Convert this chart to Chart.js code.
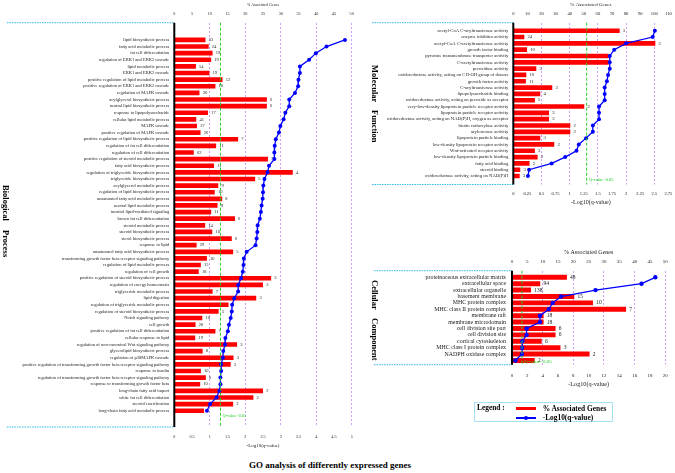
<!DOCTYPE html>
<html><head><meta charset="utf-8"><title>GO analysis of differently expressed genes</title>
<script src="https://cdn.jsdelivr.net/npm/chart.js@4.4.1/dist/chart.umd.min.js"></script>
<style>
html,body{margin:0;padding:0;background:#fff}
body{position:relative;width:675px;height:473px;overflow:hidden;font-family:'Liberation Serif','Times New Roman',serif;color:#000}
canvas{position:absolute;display:block}
.v{position:absolute;writing-mode:vertical-rl;font-weight:bold;font-size:8.5px;line-height:10px;width:10px;white-space:nowrap}
#legend{position:absolute;left:474px;top:402px;width:137px;height:18px;border:1px solid #a6e3f2}
.lt{position:absolute;font-weight:bold;font-size:7.4px;line-height:8px;white-space:nowrap}
#title{position:absolute;left:249px;top:460px;font-weight:bold;font-size:9px;line-height:11px;white-space:nowrap}
</style></head><body>
<canvas id="bp" width="362" height="455" style="left:0;top:0"></canvas>
<canvas id="mf" width="315" height="210" style="left:360px;top:0"></canvas>
<canvas id="cc" width="315" height="150" style="left:360px;top:240px"></canvas>

<div class="v" style="left:0.5px;top:185px">Biological</div>
<div class="v" style="left:0.5px;top:230px">Process</div>
<div class="v" style="left:370px;top:65px">Molecular</div>
<div class="v" style="left:370px;top:110px">Function</div>
<div class="v" style="left:370px;top:280px">Cellular</div>
<div class="v" style="left:370px;top:318px">Component</div>

<div id="legend"></div>
<div class="lt" style="left:477px;top:404.3px">Legend :</div>
<div style="position:absolute;left:516px;top:406.5px;width:19.7px;height:3px;background:#ff0000"></div>
<div class="lt" style="left:542.7px;top:404.5px">% Associated Genes</div>
<div style="position:absolute;left:516px;top:417.3px;width:19.7px;height:1.4px;background:#0000ff"></div>
<div style="position:absolute;left:524px;top:416px;width:4px;height:4px;border-radius:50%;background:#0000ff"></div>
<div class="lt" style="left:542.7px;top:414px">-Log10(q-value)</div>

<div id="title">GO analysis of differently expressed genes</div>

<script>
// ---------------- Biological Process ----------------
const bpCategories = [
  'lipid biosynthetic process','fatty acid metabolic process','fat cell differentiation',
  'regulation of ERK1 and ERK2 cascade','lipid metabolic process','ERK1 and ERK2 cascade',
  'positive regulation of lipid metabolic process','positive regulation of ERK1 and ERK2 cascade',
  'regulation of MAPK cascade','acylglycerol biosynthetic process','neutral lipid biosynthetic process',
  'response to lipopolysaccharide','cellular lipid metabolic process','MAPK cascade',
  'positive regulation of MAPK cascade','positive regulation of lipid biosynthetic process',
  'regulation of fat cell differentiation','regulation of cell differentiation',
  'positive regulation of steroid metabolic process','fatty acid biosynthetic process',
  'regulation of triglyceride biosynthetic process','triglyceride biosynthetic process',
  'acylglycerol metabolic process','regulation of lipid biosynthetic process',
  'unsaturated fatty acid metabolic process','neutral lipid metabolic process',
  'inositol lipid-mediated signaling','brown fat cell differentiation','steroid metabolic process',
  'steroid biosynthetic process','sterol biosynthetic process','response to lipid',
  'unsaturated fatty acid biosynthetic process','transforming growth factor beta receptor signaling pathway',
  'regulation of lipid metabolic process','regulation of cell growth',
  'positive regulation of steroid biosynthetic process','regulation of energy homeostasis',
  'triglyceride metabolic process','lipid digestion','regulation of triglyceride metabolic process',
  'regulation of steroid biosynthetic process','Notch signaling pathway','cell growth',
  'positive regulation of fat cell differentiation','cellular response to lipid',
  'regulation of non-canonical Wnt signaling pathway','glycerolipid biosynthetic process',
  'regulation of p38MAPK cascade',
  'positive regulation of transforming growth factor beta receptor signaling pathway',
  'response to insulin','regulation of transforming growth factor beta receptor signaling pathway',
  'response to transforming growth factor beta','long-chain fatty acid import',
  'white fat cell differentiation','steroid esterification','long-chain fatty acid metabolic process'
];
const bpPercent = [
  8.7, 9.6, 10.7, 10.3, 6.0, 9.8, 13.5, 11.5, 7.0, 26.0, 26.0, 9.4, 6.1, 6.3, 7.3, 17.9,
  11.7, 5.4, 26.3, 11.1, 33.3, 22.7, 12.3, 11.3, 13.4, 12.1, 10.3, 17.0, 8.6, 10.6, 16.1, 6.2,
  16.5, 9.1, 7.4, 6.8, 27.2, 24.9, 10.7, 23.0, 15.2, 12.4, 7.8, 5.9, 11.5, 5.8, 17.6, 7.9,
  16.6, 15.8, 7.4, 8.8, 7.2, 24.9, 22.2, 16.5, 8.3
];
const bpNegLog10Q = [
  4.81, 4.29, 3.99, 3.80, 3.54, 3.54, 3.50, 3.49, 3.40, 3.24, 3.24, 3.13, 3.08, 2.99, 2.95, 2.86,
  2.83, 2.82, 2.82, 2.67, 2.63, 2.54, 2.51, 2.50, 2.49, 2.46, 2.44, 2.41, 2.35, 2.34, 2.32, 2.29,
  2.04, 1.96, 1.95, 1.93, 1.88, 1.80, 1.80, 1.69, 1.63, 1.62, 1.59, 1.54, 1.51, 1.44, 1.43, 1.38,
  1.37, 1.32, 1.32, 1.30, 1.30, 1.27, 1.19, 1.01, 0.92
];
const bpGeneCounts = [
  33, 24, 19, 19, 54, 19, 12, 10, 36, 6, 6, 17, 41, 37, 26, 7,
  11, 62, 7, 11, 4, 5, 9, 10, 8, 9, 11, 6, 14, 10, 6, 29,
  5, 10, 15, 18, 3, 3, 7, 3, 6, 5, 10, 20, 7, 19, 3, 8,
  3, 3, 10, 6, 10, 2, 2, 2, null
];

// ---------------- Molecular Function ----------------
const mfCategories = [
  'acetyl-CoA C-acyltransferase activity','enzyme inhibitor activity',
  'acetyl-CoA C-acetyltransferase activity','growth factor binding',
  'pyruvate transmembrane transporter activity','C-acetyltransferase activity','peroxidase activity',
  'oxidoreductase activity, acting on CH-OH group of donors','growth factor activity',
  'C-acyltransferase activity','lipopolysaccharide binding',
  'oxidoreductase activity, acting on peroxide as acceptor',
  'very-low-density lipoprotein particle receptor activity','lipoprotein particle receptor activity',
  'oxidoreductase activity, acting on NAD(P)H, oxygen as acceptor','biotin carboxylase activity',
  'arylesterase activity','lipoprotein particle binding','low-density lipoprotein receptor activity',
  'Wnt-activated receptor activity','low-density lipoprotein particle binding','fatty acid binding',
  'steroid binding','oxidoreductase activity, acting on NAD(P)H'
];
const mfPercent = [
  75.2, 7.6, 100.5, 9.5, 67.4, 67.4, 16.1, 9.0, 8.7, 27.4, 18.9, 15.1,
  50.1, 25.1, 25.1, 40.2, 40.2, 18.9, 28.8, 15.1, 17.0, 11.3, 4.7, 4.3
];
const mfNegLog10Q = [
  2.51, 2.47, 2.00, 1.79, 1.71, 1.71, 1.71, 1.68, 1.66, 1.62, 1.62, 1.62,
  1.52, 1.52, 1.52, 1.41, 1.41, 1.29, 1.16, 1.12, 0.92, 0.68, 0.28, 0.26
];
const mfGeneCounts = [
  3, 24, 2, 10, null, null, 5, 10, 11, 3, 4, 5,
  2, 3, 3, 2, 2, 3, 2, 3, 2, 2, 3, 3
];

// ---------------- Cellular Component ----------------
const ccCategories = [
  'proteinaceous extracellular matrix','extracellular space','extracellular organelle',
  'basement membrane','MHC protein complex','MHC class II protein complex','membrane raft',
  'membrane microdomain','cell division site part','cell division site','cortical cytoskeleton',
  'MHC class I protein complex','NADPH oxidase complex','lipoprotein particle'
];
const ccPercent = [17.8, 9.1, 6.1, 20.2, 26.3, 37.1, 10.2, 10.2, 14.1, 14.1, 9.6, 15.7, 25.2, 7.3];
const ccNegLog10Q = [18.7, 16.9, 10.9, 6.4, 5.3, 4.8, 3.65, 3.65, 1.9, 1.9, 1.35, 1.33, 1.3, 0.45];
const ccGeneCounts = [48, 94, 138, 15, 10, 7, 18, 18, 6, 6, 6, 3, 2, 2];

// axis ranges (top: % associated genes, bottom: -log10 q)
const bpPercentAxis = {max: 50, step: 5, gridEvery: 10};
const bpQAxis = {max: 5, step: 0.5};
const mfPercentAxis = {max: 110, step: 10, gridEvery: 20};
const mfQAxis = {max: 2.75, step: 0.25};
const ccPercentAxis = {max: 50, step: 5, gridEvery: 10};
const ccQAxis = {max: 20, step: 2};
const qThreshold = 1.301;   // -log10(0.05)

const FONT = "'Liberation Serif','Times New Roman',serif";
const GRID = 'rgba(200,140,250,0.85)';
const GREEN = '#22cc22';
const CYAN = '#33bbee';
const fmt = v => String(Math.round(v * 100) / 100);

function deco(p) {
  return {
    id: 'deco',
    beforeDatasetsDraw(chart) {
      const {ctx, scales} = chart;
      ctx.save();
      ctx.font = p.f.cnt + 'px ' + FONT;
      ctx.fillStyle = '#222'; ctx.textAlign = 'left'; ctx.textBaseline = 'middle';
      p.counts.forEach((c, i) => {
        if (c == null) return;
        ctx.fillText(String(c), scales.x.getPixelForValue(p.pct[i]) + p.cntGap, scales.y.getPixelForValue(i));
      });
      ctx.restore();
    },
    afterDatasetsDraw(chart) {
      const {ctx, chartArea: a, scales} = chart;
      ctx.save();
      const gx = scales.xq.getPixelForValue(qThreshold);
      ctx.strokeStyle = GREEN; ctx.lineWidth = 1; ctx.setLineDash([3, 2]);
      ctx.beginPath(); ctx.moveTo(gx, a.top); ctx.lineTo(gx, a.bottom); ctx.stroke();
      ctx.setLineDash([]);
      ctx.fillStyle = GREEN; ctx.font = p.f.q + 'px ' + FONT;
      ctx.textBaseline = 'middle'; ctx.textAlign = 'left';
      ctx.fillText('Q-value=0.05', gx + 2, a.bottom - p.qLabelDy);
      ctx.strokeStyle = CYAN; ctx.setLineDash([1.5, 1]); ctx.lineWidth = 1;
      ctx.beginPath();
      ctx.moveTo(p.cyanX0, a.top); ctx.lineTo(a.left, a.top);
      ctx.moveTo(p.cyanX0, a.bottom); ctx.lineTo(a.left, a.bottom);
      ctx.stroke();
      ctx.setLineDash([]);
      ctx.strokeStyle = '#000'; ctx.lineWidth = 2;
      ctx.beginPath(); ctx.moveTo(a.left, a.top); ctx.lineTo(a.left, a.bottom); ctx.stroke();
      ctx.restore();
    }
  };
}

function makePanel(p) {
  const canvas = document.getElementById(p.id);
  const W = canvas.width, H = canvas.height, a = p.area;
  const lh = s => s * 1.2;
  const font = s => ({family: FONT, size: s, lineHeight: 1.2});
  const zeroPad = s => { s.paddingLeft = 0; s.paddingRight = 0; s.paddingTop = 0; s.paddingBottom = 0; };
  return new Chart(canvas, {
    data: {
      datasets: [
        {type: 'line', label: '-Log10(q-value)', data: p.cats.map((c, i) => ({x: p.q[i], y: i})),
         xAxisID: 'xq', yAxisID: 'y', borderColor: '#0000ff', backgroundColor: '#0000ff', borderWidth: 1.3,
         pointRadius: p.pr, pointBackgroundColor: '#0000ff', pointBorderColor: '#0000ff', pointBorderWidth: 0,
         tension: 0, clip: false},
        {type: 'bar', label: '% Associated Genes', data: p.cats.map((c, i) => ({x: p.pct[i], y: i})),
         xAxisID: 'x', yAxisID: 'y', backgroundColor: '#ff0000', borderWidth: 0, barThickness: p.bt}
      ]
    },
    options: {
      indexAxis: 'y', responsive: false, animation: false, events: [],
      layout: {padding: {left: 0, top: 0, right: W - a.r, bottom: 0}},
      plugins: {legend: {display: false}, tooltip: {enabled: false}},
      scales: {
        y: {type: 'linear', reverse: true, min: p.yMin, max: p.yMax, offset: false,
            grid: {display: false, drawTicks: false, offset: false}, border: {display: false},
            ticks: {stepSize: 1, autoSkip: false, padding: p.catPad, color: '#222', font: font(p.f.cat),
                    callback: v => (Number.isInteger(v) && p.cats[v]) ? p.cats[v] : ''},
            afterFit: s => { s.width = a.l; zeroPad(s); }},
        x: {type: 'linear', position: 'top', min: 0, max: p.pAxis.max,
            grid: {drawTicks: false, lineWidth: 1,
                   color: c => (c.tick && c.tick.value > 0 && Math.abs(c.tick.value % p.pAxis.gridEvery) < 1e-9) ? GRID : 'rgba(0,0,0,0)'},
            border: {display: false, dash: [2, 2]},
            ticks: {stepSize: p.pAxis.step, autoSkip: false, maxRotation: 0, color: '#222', font: font(p.f.tick),
                    padding: a.t - p.topTickY - lh(p.f.tick) / 2, callback: fmt},
            title: {display: true, text: '% Associated Genes', color: '#222', font: font(p.f.top),
                    padding: {top: p.topTitleY - lh(p.f.top) / 2, bottom: 0}},
            afterFit: s => { s.height = a.t; zeroPad(s); }},
        xq: {type: 'linear', axis: 'x', position: 'bottom', min: 0, max: p.qAxis.max,
             grid: {display: false, drawTicks: false}, border: {display: false},
             ticks: {stepSize: p.qAxis.step, autoSkip: false, maxRotation: 0, color: '#222', font: font(p.f.tick),
                     padding: p.botTickY - a.b - lh(p.f.tick) / 2, callback: fmt},
             title: {display: true, text: '-Log10(q-value)', color: '#222', font: font(p.f.bot),
                     padding: {top: 0, bottom: H - p.botTitleY - lh(p.f.bot) / 2}},
             afterFit: s => { s.height = H - a.b; zeroPad(s); }}
      }
    },
    plugins: [deco(p)]
  });
}

makePanel({id: 'bp', cats: bpCategories, pct: bpPercent, q: bpNegLog10Q, counts: bpGeneCounts,
  pAxis: bpPercentAxis, qAxis: bpQAxis,
  area: {l: 174.3, r: 351.7, t: 22.7, b: 427}, yMin: -2.6, yMax: 58.46,
  topTickY: 14, topTitleY: 5, botTickY: 437, botTitleY: 446,
  f: {cat: 4.5, tick: 4.2, top: 3.9, bot: 5.0, cnt: 4.5, q: 4.3},
  catPad: 5, cyanX0: 7, qLabelDy: 11, cntGap: 3.5, bt: 4, pr: 2});

makePanel({id: 'mf', cats: mfCategories, pct: mfPercent, q: mfNegLog10Q, counts: mfGeneCounts,
  pAxis: mfPercentAxis, qAxis: mfQAxis,
  area: {l: 153.3, r: 308.4, t: 22.7, b: 184.5}, yMin: -1.27, yMax: 24.34,
  topTickY: 14, topTitleY: 5, botTickY: 193.3, botTitleY: 202,
  f: {cat: 4.7, tick: 4.6, top: 5.0, bot: 6.0, cnt: 4.7, q: 4.5},
  catPad: 5, cyanX0: 12, qLabelDy: 4.5, cntGap: 3.5, bt: 4, pr: 2});

makePanel({id: 'cc', cats: ccCategories, pct: ccPercent, q: ccNegLog10Q, counts: ccGeneCounts,
  pAxis: ccPercentAxis, qAxis: ccQAxis,
  area: {l: 152, r: 305.3, t: 30.7, b: 124.7}, yMin: -1.03, yMax: 13.66,
  topTickY: 22, topTitleY: 12, botTickY: 135.3, botTitleY: 144.7,
  f: {cat: 5.9, tick: 5.0, top: 6.0, bot: 6.2, cnt: 5.5, q: 5.0},
  catPad: 6, cyanX0: 14, qLabelDy: 2.7, cntGap: 3.5, bt: 4.3, pr: 2.2});
</script>
</body></html>
